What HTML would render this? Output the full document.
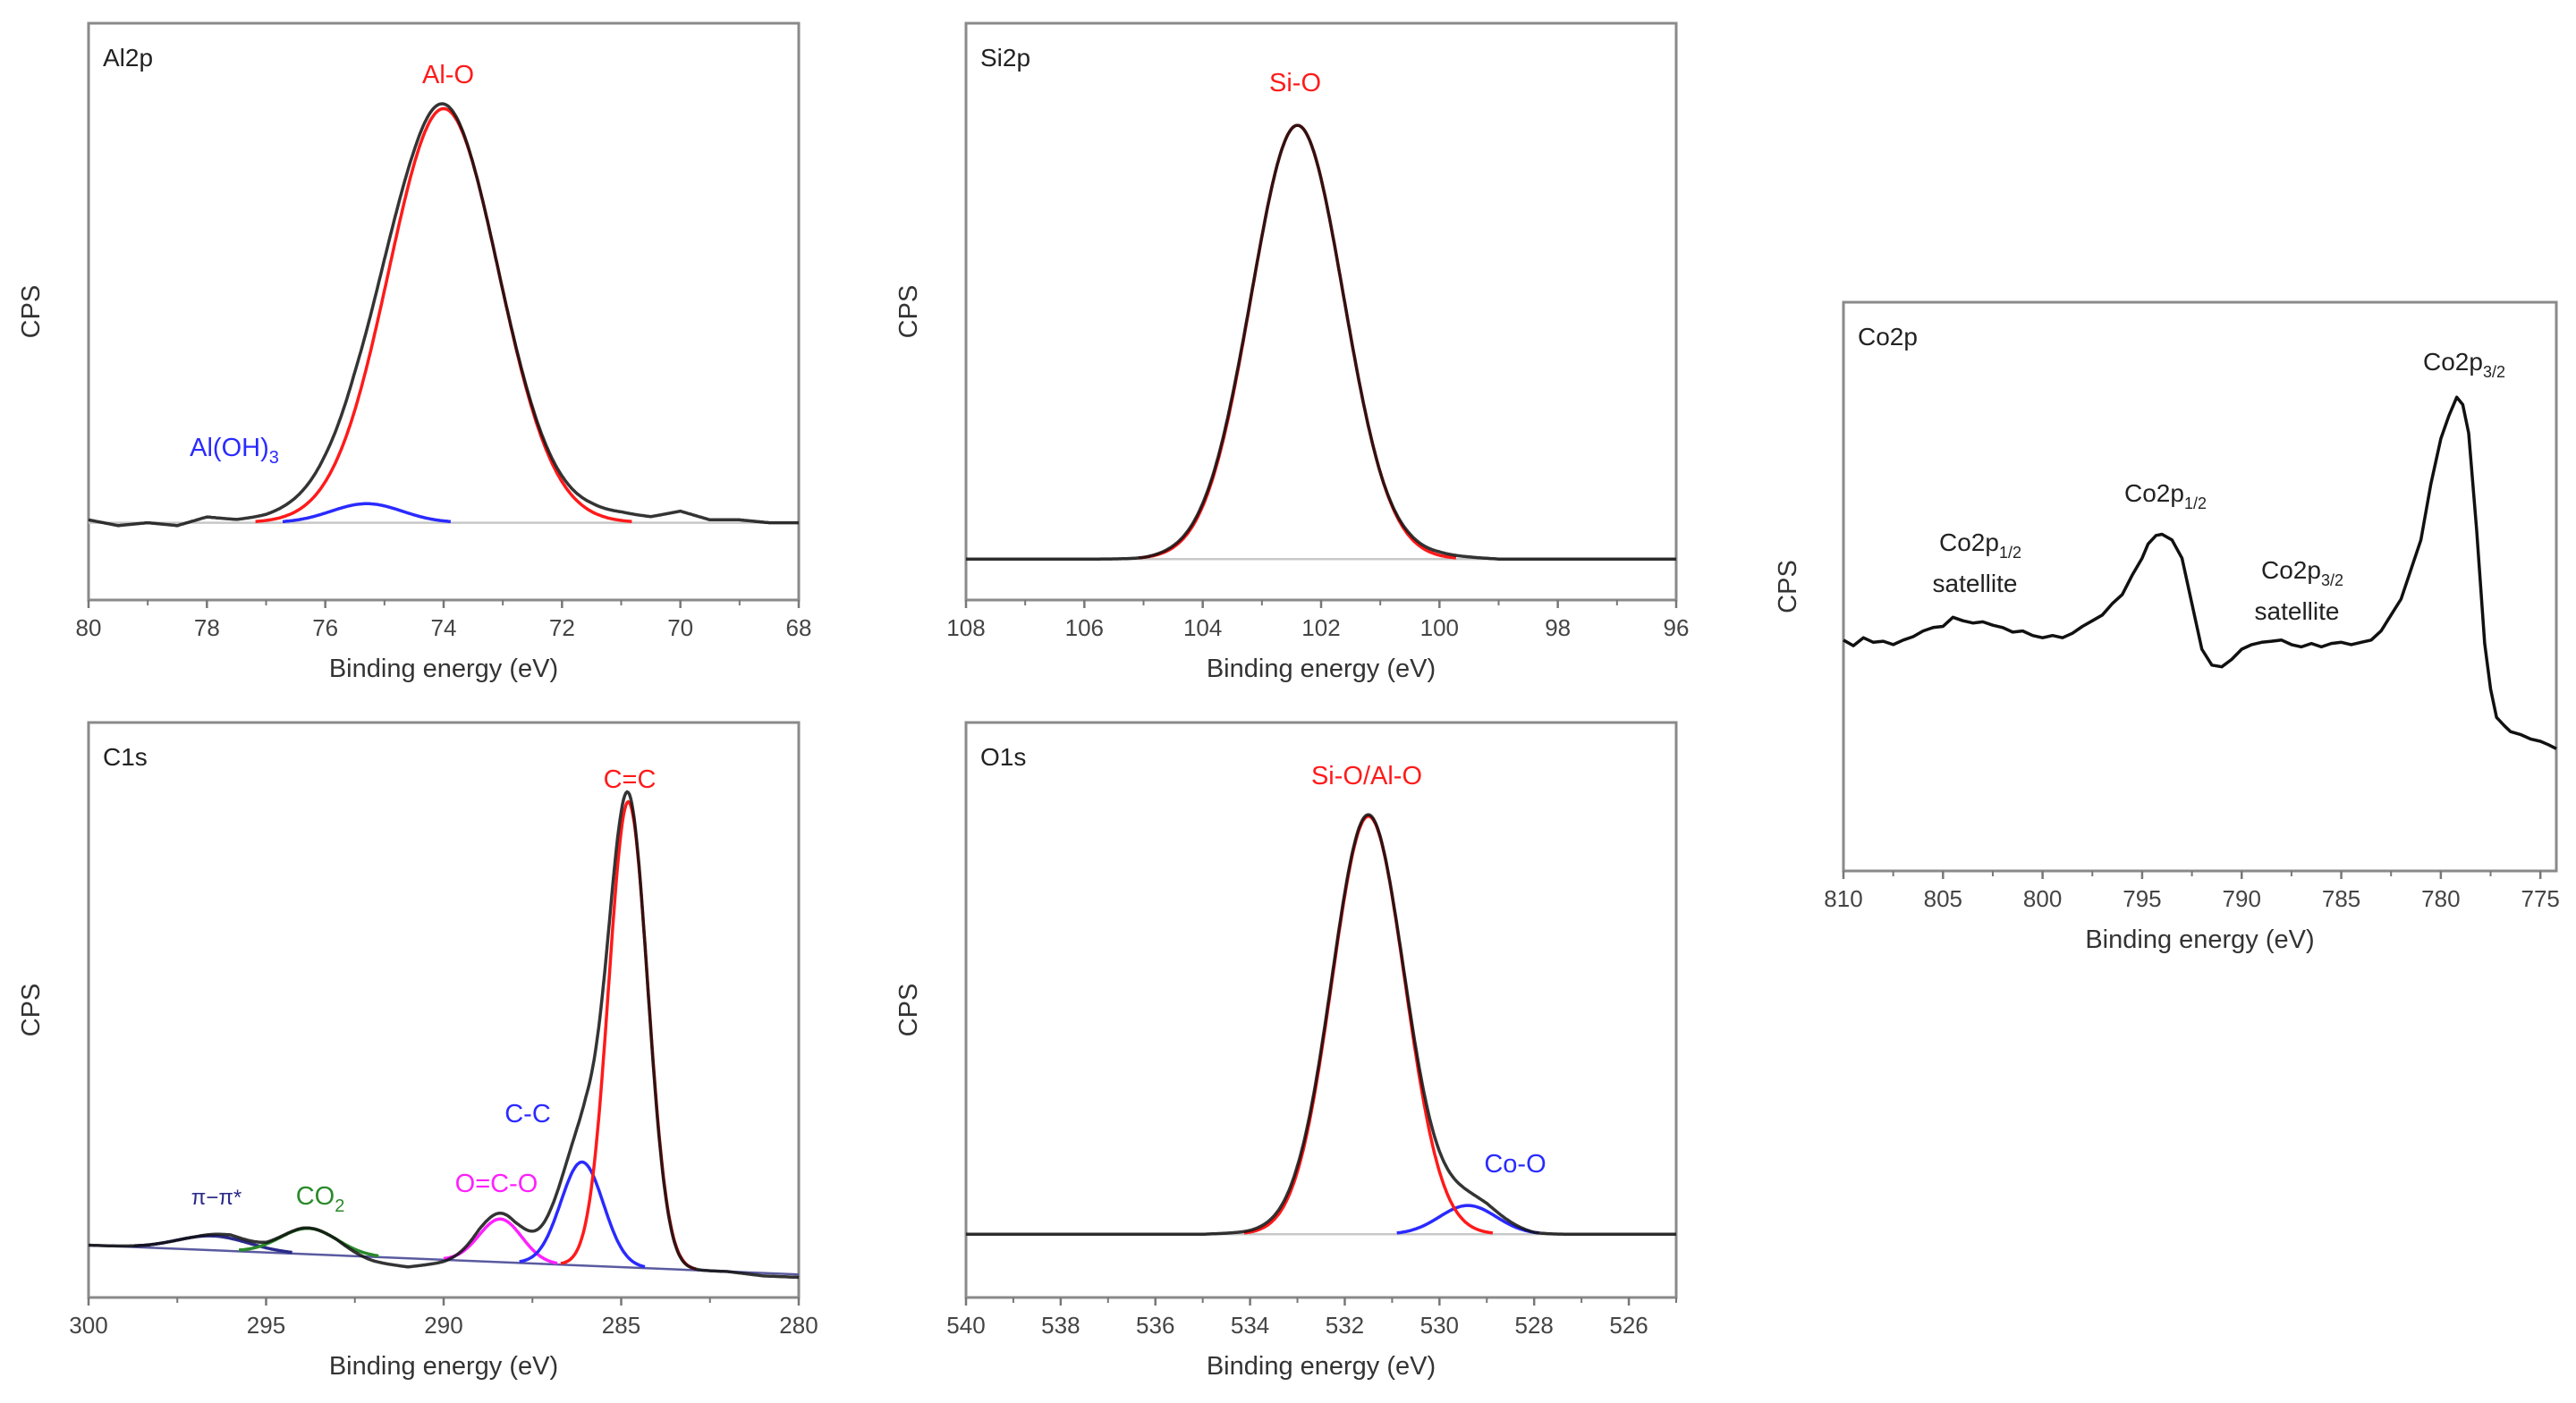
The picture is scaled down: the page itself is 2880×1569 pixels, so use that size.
<!DOCTYPE html>
<html><head><meta charset="utf-8"><style>
html,body{margin:0;padding:0;background:#fff;}
svg{display:block;font-family:"Liberation Sans",Arial,sans-serif;}
</style></head><body>
<svg id="fig" width="2880" height="1569" viewBox="0 0 2880 1569" xmlns="http://www.w3.org/2000/svg"></svg>
<script>
// ---------- Data (fractions of plot height, energies in eV) ----------
// Al2p
const al2pTicks = [80,78,76,74,72,70,68];
const al2pBase = [0.134, 0.134];
const al2pPeakCenters = [74.0, 75.3];
const al2pPeakHeights = [0.718, 0.033];
const al2pPeakSigmas = [0.93, 0.6];
const al2pResid = [0.005,-0.005,0,-0.005,0.01,0.005,0.01,0.02,0.03,0.035,0.025,0.01,0.005,0,0,0.005,0.01,0.015,0.015,0.01,0.02,0.005,0.005,0,0];
// Si2p
const si2pTicks = [108,106,104,102,100,98,96];
const si2pBase = [0.071, 0.071];
const si2pPeakCenters = [102.4];
const si2pPeakHeights = [0.752];
const si2pPeakSigmas = [0.78];
const si2pResid = [0,0,0,0,0,0,0,0.003,0.005,0.005,0,0,0,0,0,0.005,0.006,0.003,0,0,0,0,0,0,0];
// C1s
const c1sTicks = [300,295,290,285,280];
const c1sBase = [0.091, 0.04];
const c1sPeakCenters = [284.8, 286.1, 288.4, 293.8, 296.5];
const c1sPeakHeights = [0.81, 0.18, 0.075, 0.045, 0.025];
const c1sPeakSigmas = [0.55, 0.6, 0.6, 0.8, 1.0];
const c1sResid = [0,0,0,0,0.005,-0.005,0,0,-0.01,-0.015,-0.005,0.01,0.01,0.03,0.04,0,-0.005,0,0,-0.005,-0.005];
// O1s
const o1sTicks = [540,538,536,534,532,530,528,526];
const o1sBase = [0.11, 0.11];
const o1sPeakCenters = [531.5, 529.4];
const o1sPeakHeights = [0.727, 0.05];
const o1sPeakSigmas = [0.77, 0.6];
const o1sResid = [0,0,0,0,0,0,0.003,0.01,0.005,0,0.005,0.01,0,0,0,0];
// Co2p measured spectrum
const co2pTicks = [810,805,800,795,790,785,780,775];
const co2pEnergy = [810,809.5,809,808.5,808,807.5,807,806.5,806,805.5,805,804.5,804,803.5,803,802.5,802,801.5,801,800.5,800,799.5,799,798.5,798,797.5,797,796.5,796,795.5,795,794.7,794.3,794,793.5,793,792.5,792,791.5,791,790.5,790,789.5,789,788.5,788,787.5,787,786.5,786,785.5,785,784.5,784,783.5,783,782.5,782,781.5,781,780.5,780,779.6,779.2,778.9,778.6,778.2,777.8,777.5,777.2,776.8,776.5,776,775.5,775,774.6,774.2];
const co2pValue = [0.406,0.396,0.41,0.402,0.404,0.398,0.406,0.412,0.422,0.428,0.43,0.446,0.44,0.436,0.438,0.432,0.428,0.42,0.422,0.414,0.41,0.414,0.41,0.418,0.43,0.44,0.45,0.47,0.486,0.52,0.55,0.575,0.59,0.592,0.582,0.55,0.47,0.39,0.362,0.359,0.372,0.39,0.398,0.402,0.404,0.406,0.398,0.394,0.4,0.394,0.4,0.402,0.398,0.402,0.406,0.422,0.45,0.478,0.53,0.582,0.68,0.76,0.8,0.833,0.82,0.77,0.6,0.4,0.32,0.27,0.255,0.245,0.24,0.232,0.228,0.222,0.215];

// ---------- helpers ----------
const NS = 'http://www.w3.org/2000/svg';
const svg = document.getElementById('fig');
function mk(tag, attrs, parent){ const e=document.createElementNS(NS,tag); for(const k in attrs) e.setAttribute(k,attrs[k]); (parent||svg).appendChild(e); return e; }
function gauss(x,c,h,s){ return h*Math.exp(-0.5*((x-c)/s)*((x-c)/s)); }

function panel(p){
  const g = mk('g',{});
  
  
  const xs = e => p.x0 + (p.e0 - e)/(p.e0 - p.e1)*(p.x1 - p.x0);
  const ys = f => p.y1 - f*(p.y1 - p.y0);
  const fr = mk('rect',{x:p.x0,y:p.y0,width:p.x1-p.x0,height:p.y1-p.y0,fill:'none',stroke:'#8a8a8a','stroke-width':3},g);
  
  
  const step = p.ticks[0]-p.ticks[1];
  for(let i=0;i<p.ticks.length;i++){
    const t=p.ticks[i], X=xs(t);
    mk('line',{x1:X,y1:p.y1,x2:X,y2:p.y1+9,stroke:'#777','stroke-width':2.5},g);
    const tl = mk('text',{x:X,y:p.y1+40,'font-size':26,fill:'#444','text-anchor':'middle'},g);
    tl.textContent = t;
    
    
    const m = t - step/2;
    if(m >= Math.min(p.e0,p.e1) && m <= Math.max(p.e0,p.e1)) mk('line',{x1:xs(m),y1:p.y1,x2:xs(m),y2:p.y1+6,stroke:'#777','stroke-width':2},g);
  }
  const xt = mk('text',{x:(p.x0+p.x1)/2,y:p.y1+86,'font-size':29,fill:'#333','text-anchor':'middle'},g);
  xt.textContent='Binding energy (eV)';
  
  
  const cy=(p.y0+p.y1)/2;
  const yt = mk('text',{x:p.yx,y:cy,'font-size':29,fill:'#333','text-anchor':'middle',transform:`rotate(-90 ${p.yx} ${cy})`},g);
  yt.textContent='CPS';
  
  
  const tt = mk('text',{x:p.x0+16,y:p.y0+48,'font-size':28,fill:'#222'},g);
  tt.textContent=p.title;
  
  
  return {g,xs,ys};
}

function fitPanel(p){
  const {g,xs,ys} = panel(p);
  const base = e => p.base[0] + (p.e0-e)/(p.e0-p.e1)*(p.base[1]-p.base[0]);
  const N=600, es=[]; for(let i=0;i<=N;i++) es.push(p.e0 + (p.e1-p.e0)*i/N);
  const bl = mk('line',{x1:xs(p.e0),y1:ys(base(p.e0)),x2:xs(p.e1),y2:ys(base(p.e1)),stroke:p.baseColor||'#c8c8c8','stroke-width':2.5},g);
  
  
  const rstep = Math.abs(p.e0-p.e1)/(p.resid.length-1);
  const resid = e => { const u=Math.abs(p.e0-e)/rstep; const i=Math.min(Math.floor(u),p.resid.length-2); const f=u-i; return p.resid[i]*(1-f)+p.resid[i+1]*f; };
  const env = e => { let s=base(e); for(let k=0;k<p.c.length;k++) s+=gauss(e,p.c[k],p.h[k],p.s[k]); return s; };
  for(let k=p.c.length-1;k>=0;k--){
    const sel = es.filter(e=>gauss(e,p.c[k],p.h[k],p.s[k])>0.002);
    const pts = sel.map(e=>xs(e).toFixed(1)+','+ys(base(e)+gauss(e,p.c[k],p.h[k],p.s[k])).toFixed(1)).join(' ');
    const pl = mk('polyline',{points:pts,fill:'none',stroke:p.colors[k],'stroke-width':3.5},g);
    
    
  }
  const bp = es.map(e=>xs(e).toFixed(1)+','+ys(env(e)+resid(e)).toFixed(1)).join(' ');
  const blk = mk('polyline',{points:bp,fill:'none',stroke:'#111','stroke-width':3.5,'stroke-opacity':0.85},g);
  
  
  return g;
}

function label(g,name,x,y,color,html,size){
  const t = mk('text',{x:x,y:y,'font-size':size||29,fill:color,'text-anchor':'middle'},g);
  t.innerHTML = html;
  
  
}

let g = fitPanel({name:'al2p',title:'Al2p',x0:99,x1:893,y0:26,y1:671,e0:80,e1:68,yx:44,ticks:al2pTicks,base:al2pBase,c:al2pPeakCenters,h:al2pPeakHeights,s:al2pPeakSigmas,resid:al2pResid,colors:['#ff1a1a','#2a2aff']});
label(g,'al-o-label',501,93,'#ff1a1a','Al-O');
label(g,'aloh3-label',262,510,'#2a2aff','Al(OH)<tspan font-size="20" dy="8">3</tspan>');
g = fitPanel({name:'si2p',title:'Si2p',x0:1080,x1:1874,y0:26,y1:671,e0:108,e1:96,yx:1025,ticks:si2pTicks,base:si2pBase,c:si2pPeakCenters,h:si2pPeakHeights,s:si2pPeakSigmas,resid:si2pResid,colors:['#ff1a1a']});
label(g,'si-o-label',1448,102,'#ff1a1a','Si-O');
g = fitPanel({name:'c1s',title:'C1s',x0:99,x1:893,y0:808,y1:1451,e0:300,e1:280,yx:44,ticks:c1sTicks,base:c1sBase,baseColor:'#5a5aa0',c:c1sPeakCenters,h:c1sPeakHeights,s:c1sPeakSigmas,resid:c1sResid,colors:['#ff1a1a','#2a2aff','#ff20ff','#2a8a2a','#2a2a8a']});
label(g,'c-eq-c-label',704,881,'#ff1a1a','C=C');
label(g,'c-c-label',590,1255,'#2a2aff','C-C');
label(g,'o-c-o-label',555,1333,'#ff20ff','O=C-O');
label(g,'co2-label',358,1347,'#2a8a2a','CO<tspan font-size="20" dy="8">2</tspan>');
label(g,'pi-pi-label',242,1347,'#2a2a8a','π−π*',24);
g = fitPanel({name:'o1s',title:'O1s',x0:1080,x1:1874,y0:808,y1:1451,e0:540,e1:525,yx:1025,ticks:o1sTicks,base:o1sBase,c:o1sPeakCenters,h:o1sPeakHeights,s:o1sPeakSigmas,resid:o1sResid,colors:['#ff1a1a','#2a2aff']});
label(g,'si-o-al-o-label',1528,877,'#ff1a1a','Si-O/Al-O');
label(g,'co-o-label',1694,1311,'#2a2aff','Co-O');
(function(){
  const p={name:'co2p',title:'Co2p',x0:2061,x1:2858,y0:338,y1:974,e0:810,e1:774.2,yx:2008,ticks:co2pTicks};
  const r = panel(p);
  const pts = co2pEnergy.map((e,i)=>r.xs(e).toFixed(1)+','+r.ys(co2pValue[i]).toFixed(1)).join(' ');
  const pl = mk('polyline',{points:pts,fill:'none',stroke:'#111','stroke-width':3.5,'stroke-linejoin':'round'},r.g);
  
  
  label(r.g,'co2p32-label',2755,414,'#222','Co2p<tspan font-size="18" dy="8">3/2</tspan>',28);
  label(r.g,'co2p12-label',2421,561,'#222','Co2p<tspan font-size="18" dy="8">1/2</tspan>',28);
  label(r.g,'co2p12-satellite-label',2214,616,'#222','Co2p<tspan font-size="18" dy="8">1/2</tspan>',28);
  label(r.g,'co2p12-satellite-word',2208,662,'#222','satellite',28);
  label(r.g,'co2p32-satellite-label',2574,647,'#222','Co2p<tspan font-size="18" dy="8">3/2</tspan>',28);
  label(r.g,'co2p32-satellite-word',2568,693,'#222','satellite',28);
})();
</script>
</body></html>
